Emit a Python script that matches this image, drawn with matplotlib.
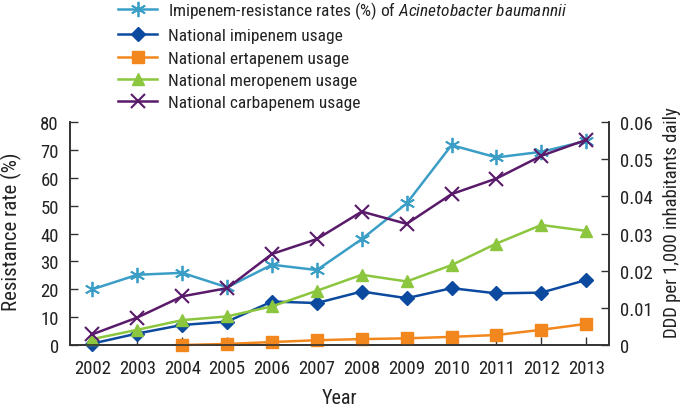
import matplotlib
matplotlib.use("Agg")
import matplotlib.pyplot as plt
from matplotlib.lines import Line2D

plt.rcParams['font.family'] = ['Roboto Condensed', 'Fira Sans Condensed', 'Liberation Sans', 'DejaVu Sans']
plt.rcParams['mathtext.fontset'] = 'custom'
plt.rcParams['mathtext.it'] = 'Roboto Condensed:italic'
plt.rcParams['mathtext.rm'] = 'Roboto Condensed'

# data
years = [2002, 2003, 2004, 2005, 2006, 2007, 2008, 2009, 2010, 2011, 2012, 2013]
resistance = [20, 25.2, 25.9, 20.7, 28.8, 26.9, 38.0, 50.8, 71.7, 67.3, 69.3, 73.2]
imipenem = [0.0004, 0.0031, 0.0054, 0.0063, 0.0117, 0.0113, 0.0144, 0.0126, 0.0153, 0.0139, 0.0141, 0.0175]
ertapenem_years = [2004, 2005, 2006, 2007, 2008, 2009, 2010, 2011, 2012, 2013]
ertapenem = [0.0000, 0.0003, 0.0008, 0.0013, 0.0016, 0.0018, 0.0022, 0.0027, 0.0041, 0.0057]
meropenem = [0.0016, 0.0041, 0.0067, 0.0077, 0.0104, 0.0146, 0.0189, 0.0171, 0.0215, 0.0273, 0.0323, 0.0307]
carbapenem = [0.0029, 0.0074, 0.0131, 0.0153, 0.0245, 0.0285, 0.0359, 0.0326, 0.0406, 0.0448, 0.0509, 0.0552]

left_ticks = [0, 10, 20, 30, 40, 50, 60, 70, 80]
right_ticks = [0, 0.01, 0.02, 0.03, 0.04, 0.05, 0.06]
right_labels = ["0", "0.01", "0.02", "0.03", "0.04", "0.05", "0.06"]

c_res = "#3b9ec6"
c_imi = "#0b4a9e"
c_ert = "#f2871e"
c_mer = "#8cc63e"
c_car = "#5a1a6a"

fig = plt.figure(figsize=(6.88, 4.10), dpi=100)
ax = fig.add_axes([0.1017, 0.156, 0.783, 0.544])
ax2 = ax.twinx()

ax.plot(years, resistance, color=c_res, lw=1.8, marker=(6, 2, 0), ms=11, mew=1.3, clip_on=False)
ax2.plot(years, imipenem, color=c_imi, lw=1.8, marker='D', ms=7, clip_on=False)
ax2.plot(ertapenem_years, ertapenem, color=c_ert, lw=1.8, marker='s', ms=8, clip_on=False)
ax2.plot(years, meropenem, color=c_mer, lw=1.8, marker='^', ms=9, clip_on=False)
ax2.plot(years, carbapenem, color=c_car, lw=1.8, marker='x', ms=10, mew=1.5, clip_on=False)

ax.set_xlim(2001.5, 2013.5)
ax.set_ylim(0, 80)
ax2.set_ylim(0, 0.06)
ax.set_xticks(years)
ax.set_xticklabels([str(y) for y in years])
ax.set_yticks(left_ticks)
ax2.set_yticks(right_ticks)
ax2.set_yticklabels(right_labels)

for a in (ax, ax2):
    a.spines['top'].set_visible(False)
    for s in a.spines.values():
        s.set_linewidth(1.2)
        s.set_color("#333333")
ax.tick_params(axis='both', direction='in', length=6, width=1, labelsize=13.5, colors="#333333", labelcolor="#222222")
ax.tick_params(axis='x', pad=10)
ax.tick_params(axis='y', pad=8)
ax2.tick_params(axis='y', direction='in', length=6, width=1, labelsize=13.5, colors="#333333", labelcolor="#222222", pad=8)

ax.set_xlabel("Year", fontsize=14.5, color="#222222", labelpad=8)
ax.set_ylabel("Resistance rate (%)", fontsize=15, color="#222222")
ax2.set_ylabel("DDD per 1,000 inhabitants daily", fontsize=13.5, color="#222222")
ax.yaxis.set_label_coords(-0.089, 0.511)
ax2.yaxis.set_label_coords(1.100, 0.552)

handles = [
    Line2D([], [], color=c_res, lw=1.8, marker=(6, 2, 0), ms=11, mew=1.3),
    Line2D([], [], color=c_imi, lw=1.8, marker='D', ms=7),
    Line2D([], [], color=c_ert, lw=1.8, marker='s', ms=8),
    Line2D([], [], color=c_mer, lw=1.8, marker='^', ms=9),
    Line2D([], [], color=c_car, lw=1.8, marker='x', ms=10, mew=1.5),
]
labels = [
    r"Imipenem-resistance rates (%) of $\mathit{Acinetobacter\ baumannii}$",
    "National imipenem usage",
    "National ertapenem usage",
    "National meropenem usage",
    "National carbapenem usage",
]
fig.legend(handles, labels, loc='upper left', bbox_to_anchor=(118 / 688, 1.0), frameon=False,
           borderpad=0, borderaxespad=0, fontsize=12.5, handlelength=2.25, handletextpad=0.63,
           labelspacing=0.42, labelcolor="#222222")

fig.savefig("out.png", dpi=100)
